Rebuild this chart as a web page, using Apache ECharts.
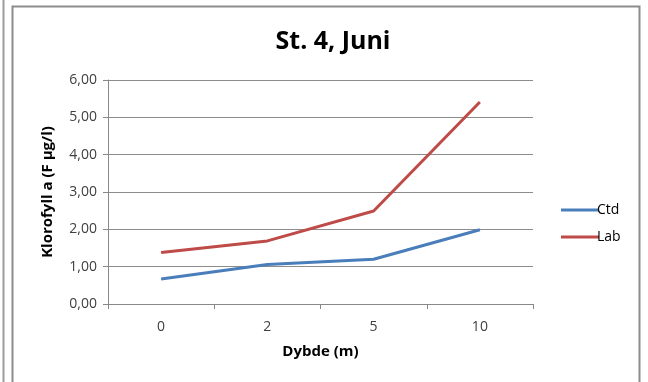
<!DOCTYPE html>
<html><head><meta charset="utf-8">
<script src="https://cdn.jsdelivr.net/npm/echarts@6/dist/echarts.min.js"></script>
<style>html,body{margin:0;padding:0;background:#fff}#c{width:648px;height:382px}</style>
</head><body><div id="c"></div>
<script>
const categories = ['0', '2', '5', '10'];
const ctd = [0.67, 1.06, 1.20, 1.99];
const lab = [1.38, 1.69, 2.49, 5.41];
const yTicks = [0, 1, 2, 3, 4, 5, 6];

const chart = echarts.init(document.getElementById('c'));
const font = "'Open Sans', 'Liberation Sans', Arial, sans-serif";
chart.setOption({
  animation: false,
  backgroundColor: '#fff',
  textStyle: { fontFamily: font },
  title: {
    text: 'St. 4, Juni', left: 328, top: 24, textAlign: 'center',
    textStyle: { fontSize: 25, fontWeight: 'bold', color: '#000', fontFamily: font }
  },
  graphic: [
    { type: 'rect', shape: { x: 12.5, y: 6.5, width: 627, height: 400 }, style: { fill: 'none', stroke: '#8c8c8c', lineWidth: 2 }, silent: true },
    { type: 'line', shape: { x1: 3.5, y1: 0, x2: 3.5, y2: 382 }, style: { stroke: '#9c9c9c', lineWidth: 2 }, silent: true }
  ],
  legend: {
    orient: 'vertical', left: 556, top: 198, itemGap: 13,
    itemWidth: 38, itemHeight: 18,
    icon: 'path://M0,8 L38,8 L38,11 L0,11 Z',
    textStyle: { fontSize: 14, color: '#000', padding: [0, 0, 0, -7], fontFamily: font },
    data: ['Ctd', 'Lab']
  },
  grid: { left: 108, right: 115, top: 80, bottom: 78, containLabel: false },
  xAxis: {
    type: 'category', data: categories, boundaryGap: true,
    name: 'Dybde (m)', nameLocation: 'middle', nameGap: 40,
    nameTextStyle: { fontSize: 15, fontWeight: 'bold', color: '#000', fontFamily: font },
    axisLine: { lineStyle: { color: '#888', width: 1 } },
    axisTick: { show: true, length: 5, lineStyle: { color: '#888' } },
    axisLabel: { fontSize: 14, color: '#404040', margin: 16, fontFamily: font }
  },
  yAxis: {
    type: 'value', min: 0, max: 6, interval: 1,
    name: 'Klorofyll a (F µg/l)', nameLocation: 'middle', nameGap: 53, nameRotate: 90,
    nameTextStyle: { fontSize: 15, fontWeight: 'bold', color: '#000', fontFamily: font },
    axisLine: { show: true, lineStyle: { color: '#888', width: 1 } },
    axisTick: { show: true, length: 5, lineStyle: { color: '#888' } },
    axisLabel: { fontSize: 14, color: '#404040', margin: 11, fontFamily: font,
      formatter: v => yTicks.includes(v) ? v.toFixed(2).replace('.', ',') : '' },
    splitLine: { lineStyle: { color: '#8c8c8c', width: 1 } }
  },
  series: [
    { name: 'Ctd', type: 'line', data: ctd, symbol: 'none', color: '#4a7ebb',
      lineStyle: { width: 3, color: '#4a7ebb' } },
    { name: 'Lab', type: 'line', data: lab, symbol: 'none', color: '#be4b48',
      lineStyle: { width: 3, color: '#be4b48' } }
  ]
});
</script></body></html>
